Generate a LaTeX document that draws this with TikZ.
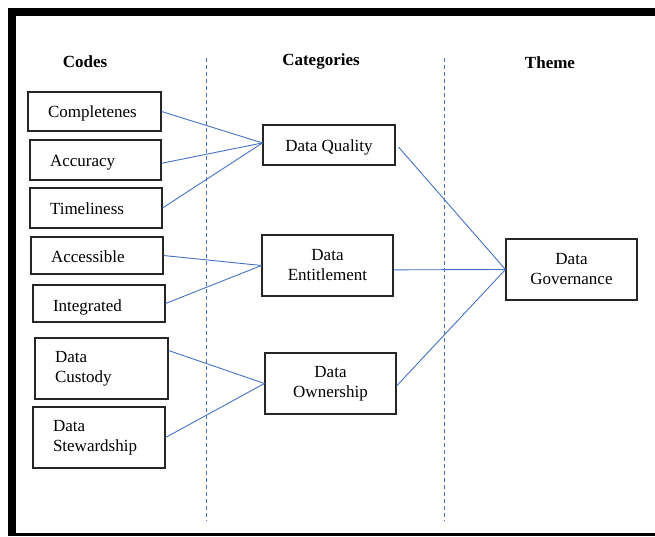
\documentclass[tikz,border=0pt]{standalone}
\usepackage{fontspec}
\setmainfont{Liberation Serif}
\usetikzlibrary{calc}
\definecolor{linkblue}{HTML}{4472C4}
\begin{document}
\begin{tikzpicture}[x=1pt,y=-1pt,
  every node/.style={font=\rmfamily\fontsize{17}{20}\selectfont},
  head/.style={font=\rmfamily\fontsize{17}{20}\selectfont\bfseries},
  oneline/.style={text height=13pt, text depth=0pt},
  codebox/.style={draw=black!85, line width=1.1pt, inner xsep=20pt, inner ysep=0pt,
    align=left, minimum height=#1},
  catbox/.style={draw=black!85, line width=1.1pt, align=center, inner sep=0pt,
    minimum width=131pt, minimum height=#1},
  link/.style={draw=linkblue, line width=0.9pt},
  divider/.style={draw=linkblue, line width=0.9pt, dash pattern=on 4pt off 3pt}]

\useasboundingbox (0,0) rectangle (655,537);

% frame: heavy top and left edges, thin bottom edge
\fill[black] (8,8) rectangle (655,16);
\fill[black] (8,8) rectangle (16,536);
\fill[black] (8,533) rectangle (655,536);

% column headers
\node[head] (hcodes) at (85,62) {Codes};
\node[head] (hcats) at (321,61) {Categories};
\node[head] (htheme) at (550,63) {Theme};

% column dividers
\coordinate (d1t) at (206.5,58);
\coordinate (d1b) at (206.5,521);
\coordinate (d2t) at (444,58);
\coordinate (d2b) at (444,521);
\draw[divider] (d1t) -- (d1b);
\draw[divider] (d2t) -- (d2b);

% codes
\node[codebox=39pt, oneline, text width=93pt] (comp) at (94.5,111.5) {Completenes};
\node[codebox=40pt, oneline, text width=91pt] (accu) at (95.5,160) {Accuracy};
\node[codebox=40pt, oneline, text width=92pt] (time) at (96,208) {Timeliness};
\node[codebox=37pt, oneline, text width=92pt] (acce) at (97,255.5) {Accessible};
\node[codebox=37pt, oneline, text width=92pt] (inte) at (99,303.5) {\raisebox{-1.5pt}{Integrated}};
\node[codebox=61pt, text width=93pt] (cust) at (101.5,368.5) {Data\\Custody};
\node[codebox=61pt, text width=92pt] (stew) at (99,437.5) {Data\\Stewardship};

% categories
\node[catbox=40pt, oneline, minimum width=132pt] (qual) at (329,145) {Data Quality};
\node[catbox=61pt] (enti) at (327.5,265.5) {Data\\Entitlement};
\node[catbox=61pt] (owne) at (330.5,383.5) {Data\\Ownership};

% theme
\node[catbox=61pt] (gove) at (571.5,269.5) {Data\\Governance};

% codes to categories
\draw[link] (comp.east) -- ($(qual.north west)!0.45!(qual.south west)$);
\draw[link] ($(accu.north east)!0.58!(accu.south east)$) -- ($(qual.north west)!0.45!(qual.south west)$);
\draw[link] (time.east) -- ($(qual.north west)!0.45!(qual.south west)$);
\draw[link] (acce.east) -- (enti.west);
\draw[link] (inte.east) -- (enti.west);
\draw[link] ($(cust.north east)!0.21!(cust.south east)$) -- (owne.west);
\draw[link] (stew.east) -- (owne.west);

% categories to theme
\draw[link] ($(qual.north east)!0.55!(qual.south east)+(3,0)$) -- (gove.west);
\draw[link] ($(enti.north east)!0.57!(enti.south east)$) -- (gove.west);
\draw[link] ($(owne.north east)!0.54!(owne.south east)$) -- (gove.west);
\end{tikzpicture}
\end{document}
